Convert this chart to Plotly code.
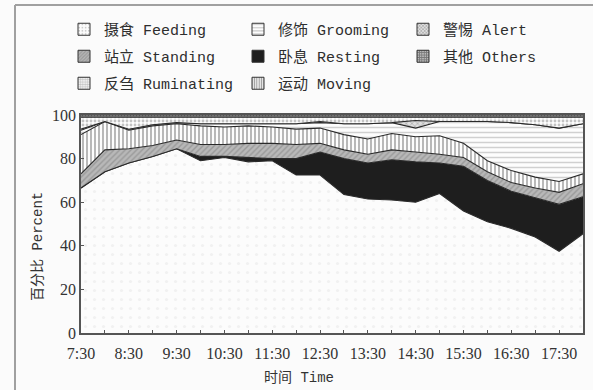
import plotly.graph_objects as go

# ---- data (percent of time) ----
times = ["7:30", "8:00", "8:30", "9:00", "9:30", "10:00", "10:30", "11:00", "11:30", "12:00", "12:30",
         "13:00", "13:30", "14:00", "14:30", "15:00", "15:30", "16:00", "16:30", "17:00", "17:30", "18:00"]
feeding = [66.5, 74, 78, 81, 84.5, 79, 80.5, 78.5, 79, 72.5, 72.5, 63.5, 61.5, 61, 60, 64, 56, 51, 48, 44, 37.5, 45.5]
resting = [0, 0, 0, 0, 0, 2, 0.5, 2, 1, 7.5, 10.5, 16.5, 16.5, 18.5, 18.5, 14, 20.5, 19, 17, 18, 21.5, 17]
standing = [6.5, 10, 6.5, 5, 4, 5.5, 5.5, 6.5, 7, 6.5, 4, 4, 4, 4.5, 4.5, 4, 4, 4, 4, 4.5, 5.5, 6]
moving = [18, 13, 8.5, 9, 7.5, 8.5, 8, 8, 7.5, 7, 7, 7, 7, 7.5, 7, 8.5, 6.5, 5, 5.5, 5, 5, 4.5]
grooming = [2, 0, 0.5, 0.5, 0.5, 1, 1.5, 1, 1.5, 2.5, 2.5, 5, 7, 5, 4, 6.5, 10, 18, 22, 24, 24.5, 23]
alert = [0.5, 0, 0, 0, 0, 0, 0, 0, 0, 0, 0.5, 0, 0, 0, 3.5, 0, 0, 0, 0, 0, 0, 0]
ruminating = [5.5, 2, 5.5, 3.5, 2.5, 3, 3, 3, 3, 3, 2, 3, 3, 2.5, 1.5, 2, 2, 2, 2.5, 3.5, 5, 3]
others = [1] * 22

tick_labels = ["7:30", "8:30", "9:30", "10:30", "11:30", "12:30", "13:30", "14:30", "15:30", "16:30", "17:30"]
y_ticks = [0, 20, 40, 60, 80, 100]

names_cn = {
    "feeding": "摄食 Feeding", "grooming": "修饰 Grooming", "alert": "警惕 Alert",
    "standing": "站立 Standing", "resting": "卧息 Resting", "others": "其他 Others",
    "ruminating": "反刍 Ruminating", "moving": "运动 Moving",
}


def to_hours(t):
    h, m = t.split(":")
    return int(h) + int(m) / 60.0


x = [to_hours(t) for t in times]
tickvals = [to_hours(t) for t in tick_labels]

W, H = 593, 390
L, R, T, B = 81, 10, 115, 57
PW, PH = W - L - R, H - T - B


def px_x(p):
    return (p - L) / PW


def px_y(p):
    return (H - B - p) / PH


styles = {
    "feeding": dict(fillcolor="#fcfcfc", pattern=dict(shape=".", bgcolor="#fcfcfc", fgcolor="#e6e6e6", size=9, solidity=0.1)),
    "resting": dict(fillcolor="#1e1e1e", pattern=None),
    "standing": dict(fillcolor="#a8a8a8", pattern=dict(shape="/", bgcolor="#b8b8b8", fgcolor="#7c7c7c", size=4, solidity=0.35)),
    "moving": dict(fillcolor="#ffffff", pattern=dict(shape="|", bgcolor="#fdfdfd", fgcolor="#383838", size=4, solidity=0.35)),
    "grooming": dict(fillcolor="#ffffff", pattern=dict(shape="-", bgcolor="#fdfdfd", fgcolor="#a4a4a4", size=5, solidity=0.3)),
    "alert": dict(fillcolor="#dddddd", pattern=dict(shape="x", bgcolor="#e0e0e0", fgcolor="#666666", size=4, solidity=0.3)),
    "ruminating": dict(fillcolor="#ffffff", pattern=dict(shape=".", bgcolor="#fdfdfd", fgcolor="#8a8a8a", size=4, solidity=0.4)),
    "others": dict(fillcolor="#444444", pattern=dict(shape="+", bgcolor="#bbbbbb", fgcolor="#333333", size=3, solidity=0.5)),
}

series = [("feeding", feeding), ("resting", resting), ("standing", standing), ("moving", moving),
          ("grooming", grooming), ("alert", alert), ("ruminating", ruminating), ("others", others)]

fig = go.Figure()
for key, vals in series:
    st = styles[key]
    kw = dict(x=x, y=vals, mode="lines", stackgroup="one", name=names_cn[key], showlegend=False,
              line=dict(color="#2a2a2a", width=1.1), fillcolor=st["fillcolor"], hoverinfo="skip")
    if st["pattern"] is not None:
        kw["fillpattern"] = st["pattern"]
    fig.add_trace(go.Scatter(**kw))

# legend entries (pattern swatches) on a hidden helper axis, three columns
columns = [["feeding", "standing", "ruminating"], ["grooming", "resting", "moving"], ["alert", "others"]]
legend_ids = ["legend", "legend2", "legend3"]
for col, lid in zip(columns, legend_ids):
    for key in col:
        st = styles[key]
        marker = dict(color=st["fillcolor"], line=dict(color="#333333", width=1))
        if st["pattern"] is not None:
            p = dict(st["pattern"])
            p["size"] = max(3, p["size"] - 1)
            p["solidity"] = min(0.6, p["solidity"] + 0.15)
            if key == "feeding":
                p["fgcolor"] = "#999999"
                p["size"] = 4
            marker["pattern"] = p
        fig.add_trace(go.Bar(x=[0], y=[0], name=names_cn[key], marker=marker, xaxis="x2", yaxis="y2",
                             legend=lid, legendgroup=key, showlegend=True, hoverinfo="skip"))

leg_common = dict(orientation="v", xanchor="left", yanchor="top",
                  bgcolor="rgba(0,0,0,0)", borderwidth=0, tracegroupgap=4.5, itemwidth=30,
                  font=dict(family="Liberation Mono, Noto Sans CJK SC", size=15, color="#2e2e2e"))
col_x = [64, 238, 403]
for lid, cx in zip(legend_ids, col_x):
    fig.update_layout(**{lid: dict(leg_common, x=px_x(cx), y=px_y(13))})

axis_font = dict(family="Liberation Serif, Times New Roman, serif", size=16, color="#333333")
fig.update_layout(
    xaxis=dict(type="linear", range=[x[0], x[-1]], tickvals=tickvals, ticktext=tick_labels, ticks="inside",
               ticklen=3, tickcolor="#555555", showline=True, linecolor="#555555", linewidth=1.5, mirror=True,
               showgrid=False, zeroline=False, tickfont=axis_font, ticklabelstandoff=5,
               minor=dict(ticks="inside", ticklen=3, tickcolor="#555555", dtick=0.5, tick0=x[0], showgrid=False)),
    yaxis=dict(type="linear", range=[0, 100], tickvals=y_ticks, ticks="inside", ticklen=3, tickcolor="#555555",
               showline=True, linecolor="#555555", linewidth=1.5, mirror=True, showgrid=False,
               zeroline=False, tickfont=axis_font),
    xaxis2=dict(type="linear", range=[10, 11], visible=False, overlaying="x", fixedrange=True),
    yaxis2=dict(type="linear", range=[10, 11], visible=False, overlaying="y", fixedrange=True),
)

title_font = dict(family="Liberation Mono, Noto Sans CJK SC", size=14, color="#333333")
fig.add_annotation(text="百分比 Percent", x=px_x(38), y=px_y(247), xref="paper", yref="paper",
                   xanchor="center", yanchor="middle", textangle=-90, showarrow=False, font=title_font)
fig.add_annotation(text="时间 Time", x=px_x(299), y=px_y(378), xref="paper", yref="paper",
                   xanchor="center", yanchor="middle", showarrow=False, font=title_font)

# scan frame lines
fig.add_shape(type="line", xref="paper", yref="paper", x0=px_x(15), x1=px_x(593), y0=px_y(5), y1=px_y(5),
              line=dict(color="#a0a0a0", width=2))
fig.add_shape(type="line", xref="paper", yref="paper", x0=px_x(15), x1=px_x(15), y0=px_y(5), y1=px_y(390),
              line=dict(color="#a0a0a0", width=2))

fig.update_layout(width=W, height=H, margin=dict(l=L, r=R, t=T, b=B, pad=0, autoexpand=False),
                  paper_bgcolor="#fbfbfb", plot_bgcolor="#fcfcfc", showlegend=True)

fig.write_html("out.html")
